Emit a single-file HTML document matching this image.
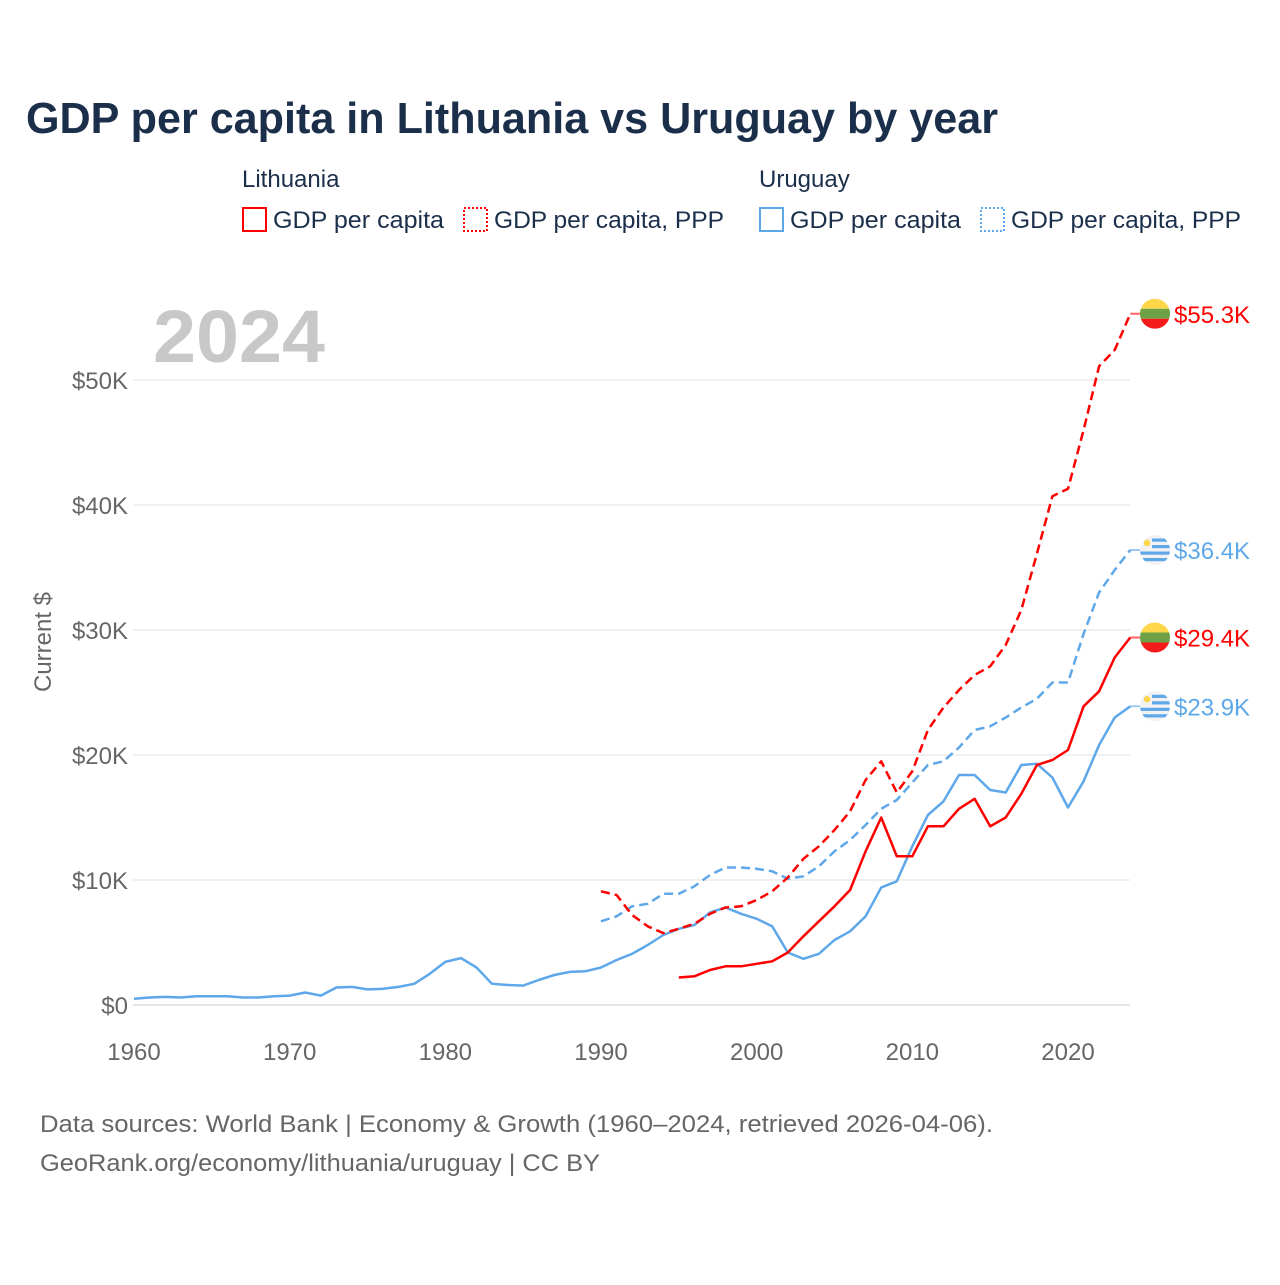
<!DOCTYPE html>
<html><head><meta charset="utf-8"><style>
body{margin:0;background:#fff;}
svg text{font-family:"Liberation Sans",sans-serif;}
</style></head><body>
<svg id="c" width="1280" height="1280" xmlns="http://www.w3.org/2000/svg">
<defs id="defs"></defs>
<text x="26" y="133" font-size="44" font-weight="bold" fill="#1b2f4b" textLength="972" lengthAdjust="spacingAndGlyphs">GDP per capita in Lithuania vs Uruguay by year</text>
<text x="242" y="187" font-size="24" fill="#1b2f4b">Lithuania</text>
<text x="759" y="187" font-size="24" fill="#1b2f4b">Uruguay</text>
<g><rect x="243" y="208" width="23" height="23" fill="none" stroke="#f00" stroke-width="2"/><text x="273" y="228" font-size="24" fill="#1b2f4b" textLength="171" lengthAdjust="spacingAndGlyphs">GDP per capita</text></g>
<g><rect x="464" y="208" width="23" height="23" fill="none" stroke="#f00" stroke-width="2" stroke-dasharray="2,2"/><text x="494" y="228" font-size="24" fill="#1b2f4b" textLength="230" lengthAdjust="spacingAndGlyphs">GDP per capita, PPP</text></g>
<g><rect x="760" y="208" width="23" height="23" fill="none" stroke="#5ea8ea" stroke-width="2"/><text x="790" y="228" font-size="24" fill="#1b2f4b" textLength="171" lengthAdjust="spacingAndGlyphs">GDP per capita</text></g>
<g><rect x="981" y="208" width="23" height="23" fill="none" stroke="#5ea8ea" stroke-width="2" stroke-dasharray="2,2"/><text x="1011" y="228" font-size="24" fill="#1b2f4b" textLength="230" lengthAdjust="spacingAndGlyphs">GDP per capita, PPP</text></g>
<text x="153" y="362" font-size="74" font-weight="bold" fill="#c8c8c8" textLength="172" lengthAdjust="spacingAndGlyphs">2024</text>
<text transform="translate(51,642) rotate(-90)" text-anchor="middle" font-size="24" fill="#666">Current $</text>
<g id="grid"></g><g id="lines"></g><g id="ends"></g>
<text x="40" y="1132" font-size="24" fill="#666" textLength="953" lengthAdjust="spacingAndGlyphs">Data sources: World Bank | Economy &amp; Growth (1960–2024, retrieved 2026-04-06).</text>
<text x="40" y="1171" font-size="24" fill="#666" textLength="560" lengthAdjust="spacingAndGlyphs">GeoRank.org/economy/lithuania/uruguay | CC BY</text>
</svg>
<script>
const yTicks=[0,10,20,30,40,50];
const xTicks=[1960,1970,1980,1990,2000,2010,2020];
const uyGdp=[0.5,0.6,0.65,0.6,0.7,0.7,0.7,0.6,0.6,0.7,0.75,1.0,0.75,1.4,1.45,1.25,1.3,1.45,1.7,2.5,3.45,3.75,3.0,1.7,1.6,1.55,2.0,2.4,2.65,2.7,3.0,3.6,4.1,4.8,5.6,6.1,6.4,7.4,7.8,7.3,6.9,6.3,4.2,3.7,4.1,5.2,5.9,7.1,9.4,9.9,12.7,15.2,16.3,18.4,18.4,17.2,17.0,19.2,19.3,18.2,15.8,17.9,20.8,23.0,23.9];
const uyPpp=[6.7,7.1,7.9,8.1,8.9,8.9,9.5,10.4,11.0,11.0,10.9,10.7,10.1,10.3,11.1,12.3,13.2,14.4,15.7,16.4,17.8,19.2,19.5,20.6,22.0,22.3,23.0,23.8,24.5,25.8,25.8,29.7,33.0,34.8,36.4];
const ltGdp=[2.2,2.3,2.8,3.1,3.1,3.3,3.5,4.2,5.5,6.7,7.9,9.2,12.3,15.0,11.9,11.9,14.3,14.3,15.7,16.5,14.3,15.0,16.9,19.2,19.6,20.4,23.9,25.1,27.8,29.4];
const ltPpp=[9.1,8.8,7.2,6.3,5.75,6.1,6.5,7.3,7.8,7.9,8.4,9.1,10.2,11.7,12.7,14.0,15.5,18.0,19.5,17.0,18.7,22.0,23.8,25.2,26.4,27.1,28.8,31.6,36.1,40.7,41.3,46.0,51.1,52.4,55.3];
const endLabels=["$55.3K","$36.4K","$29.4K","$23.9K"];
const X=y=>134+(y-1960)*(1068-134)/60;
const Y=v=>1005-v*12.5;
const NS="http://www.w3.org/2000/svg";
const g=document.getElementById('grid'),L=document.getElementById('lines'),E=document.getElementById('ends'),D=document.getElementById('defs');
function mk(t,a,p){const e=document.createElementNS(NS,t);for(const k in a)e.setAttribute(k,a[k]);p.appendChild(e);return e;}
yTicks.forEach(v=>{
 const l=mk('line',{x1:133,x2:1130,y1:Y(v),y2:Y(v),stroke:v==0?'#e6e6e6':'#ececec','stroke-width':v==0?2:1.5},g);
 
 
 const t=mk('text',{x:128,y:Y(v)+9,'text-anchor':'end','font-size':24,fill:'#666'},g);
 t.textContent='$'+v+(v?'K':'');
 
 
});
xTicks.forEach(yr=>{
 const t=mk('text',{x:X(yr),y:1060,'text-anchor':'middle','font-size':24,fill:'#666'},g);
 t.textContent=yr;
 
 
});
function line(data,start,color,dash,name){
 const pts=data.map((v,i)=>X(start+i).toFixed(1)+','+Y(v).toFixed(1)).join(' ');
 const p=mk('polyline',{points:pts,fill:'none',stroke:color,'stroke-width':2.5,'stroke-linejoin':'round'},L);
 if(dash)p.setAttribute('stroke-dasharray','9,5');
 
 
}
line(uyGdp,1960,'#5ea8ea',false,'line-uruguay-gdp');
line(uyPpp,1990,'#5ea8ea',true,'line-uruguay-ppp');
line(ltGdp,1995,'#f00',false,'line-lithuania-gdp');
line(ltPpp,1990,'#f00',true,'line-lithuania-ppp');
const ends=[[ltPpp,'#f00','lt'],[uyPpp,'#5ea8ea','uy'],[ltGdp,'#f00','lt'],[uyGdp,'#5ea8ea','uy']];
ends.forEach((e,i)=>{
 const v=e[0][e[0].length-1],cy=Y(v),cx=1155;
 const lk=mk('line',{x1:X(2024),x2:cx-14,y1:cy,y2:cy,stroke:e[1],'stroke-width':2,opacity:0.6},E);
 
 
 const cp=mk('clipPath',{id:'cp'+i},D);
 mk('circle',{cx:cx,cy:cy,r:15},cp);
 const grp=mk('g',{'clip-path':'url(#cp'+i+')'},E);
 
 
 if(e[2]=='lt'){
  mk('rect',{x:cx-15,y:cy-15,width:30,height:10,fill:'#fdd64a'},grp);
  mk('rect',{x:cx-15,y:cy-5,width:30,height:10,fill:'#6ea145'},grp);
  mk('rect',{x:cx-15,y:cy+5,width:30,height:10,fill:'#f51b1b'},grp);
 }else{
  mk('rect',{x:cx-15,y:cy-15,width:30,height:30,fill:'#f2f2f2'},grp);
  [-10,-3.5,3,9.5].forEach((o,j)=>mk('rect',{x:j<2?cx-3:cx-15,y:cy+o-1.5,width:j<2?18:30,height:3.2,fill:'#5ea8ea'},grp));
  mk('circle',{cx:cx-8,cy:cy-7,r:3.2,fill:'#fdd64a'},grp);
 }
 const t=mk('text',{x:1174,y:cy+9,'font-size':24,fill:e[1]},E);
 t.textContent=endLabels[i];
 
 
});
</script>
</body></html>
